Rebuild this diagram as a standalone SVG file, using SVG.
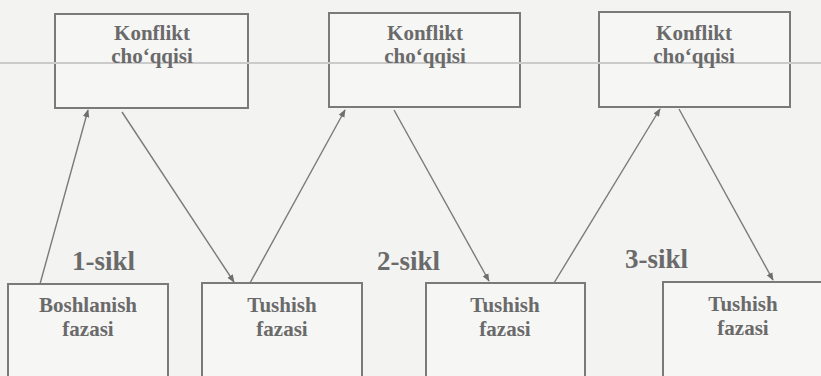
<svg xmlns="http://www.w3.org/2000/svg" width="821" height="376" viewBox="0 0 821 376">
<defs>
<marker id="ah" viewBox="0 0 10 10" refX="9" refY="5" markerWidth="8" markerHeight="8" markerUnits="userSpaceOnUse" orient="auto">
<path d="M0,1 L10,5 L0,9 z" fill="#6e6e6e"/>
</marker>
</defs>
<style>
.bg{fill:#f3f3f2}
.box{fill:#f6f6f5;stroke:#7a7a7a;stroke-width:2}
.lbl{font-family:"Liberation Serif","Times New Roman",serif;font-weight:bold;font-size:21px;fill:#6a6a6a;text-anchor:middle}
.cyc{font-family:"Liberation Serif","Times New Roman",serif;font-weight:bold;font-size:27px;fill:#6a6a6a}
.con{stroke:#7a7a7a;stroke-width:1.4;fill:none;marker-end:url(#ah)}
.scan{stroke:#cbcbcb;stroke-width:2}
</style>
<rect class="bg" x="0" y="0" width="821" height="376"/>
<g id="top1"><rect class="box" x="55" y="14" width="193" height="94"/></g>
<g id="top2"><rect class="box" x="329" y="13" width="191" height="94"/></g>
<g id="top3"><rect class="box" x="599" y="12" width="191" height="95"/></g>
<line class="scan" x1="0" y1="63" x2="821" y2="63"/>
<g id="top1-text"><text class="lbl" x="152" y="40">Konflikt</text><text class="lbl" x="152" y="63">cho‘qqisi</text></g>
<g id="top2-text"><text class="lbl" x="425" y="40">Konflikt</text><text class="lbl" x="425" y="63">cho‘qqisi</text></g>
<g id="top3-text"><text class="lbl" x="694" y="40">Konflikt</text><text class="lbl" x="694" y="63">cho‘qqisi</text></g>
<g id="bot1"><rect class="box" x="8" y="284" width="160" height="100"/><text class="lbl" x="88" y="312">Boshlanish</text><text class="lbl" x="88" y="336">fazasi</text></g>
<g id="bot2"><rect class="box" x="202" y="283" width="160" height="101"/><text class="lbl" x="282" y="312">Tushish</text><text class="lbl" x="282" y="336">fazasi</text></g>
<g id="bot3"><rect class="box" x="426" y="283" width="159" height="101"/><text class="lbl" x="505" y="312">Tushish</text><text class="lbl" x="505" y="336">fazasi</text></g>
<g id="bot4"><rect class="box" x="663" y="282" width="160" height="102"/><text class="lbl" x="743" y="311">Tushish</text><text class="lbl" x="743" y="335">fazasi</text></g>
<g id="connectors">
<line class="con" x1="40" y1="284" x2="88" y2="110"/>
<line class="con" x1="122" y1="112" x2="234" y2="282"/>
<line class="con" x1="250" y1="283" x2="345" y2="110"/>
<line class="con" x1="394" y1="110" x2="489" y2="281"/>
<line class="con" x1="554" y1="283" x2="660" y2="109"/>
<line class="con" x1="679" y1="109" x2="773" y2="280"/>
</g>
<text class="cyc" x="72" y="270">1-sikl</text>
<text class="cyc" x="377" y="270">2-sikl</text>
<text class="cyc" x="625" y="268">3-sikl</text>
</svg>
